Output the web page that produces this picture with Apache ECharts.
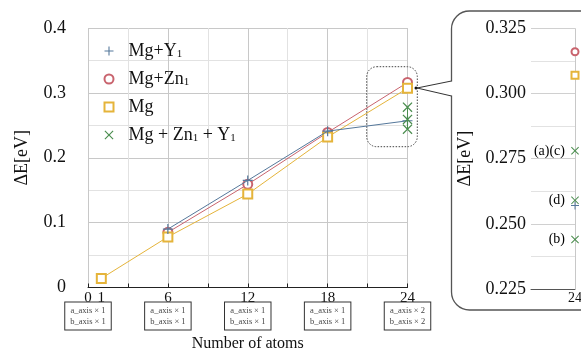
<!DOCTYPE html>
<html>
<head>
<meta charset="utf-8">
<script src="https://cdn.jsdelivr.net/npm/echarts@6/dist/echarts.min.js"></script>
<style>html,body{margin:0;padding:0;background:#fff;}#c{width:581px;height:349px;}</style>
</head>
<body>
<div id="c"></div>
<script>
// ---- data ----
var atoms = [1, 6, 12, 18, 24];
var mgY = [null, 0.090, 0.165, 0.241, 0.257];
var mgZn = [null, 0.085, 0.159, 0.239, 0.316];
var mg = [0.014, 0.078, 0.144, 0.232, 0.307];
var mgZnYAtoms = [24, 24, 24];
var mgZnY = [0.278, 0.259, 0.244];
var mgZnYLabels = ['(a)(c)', '(d)', '(b)'];
var xTickLabels = [0, 1, 6, 12, 18, 24];
var boxAtoms = [0, 6, 12, 18, 24];
var boxMultipliers = [1, 1, 1, 1, 2];
var seriesNames = ['Mg+Y1', 'Mg+Zn1', 'Mg', 'Mg + Zn1 + Y1'];

var FONT = '"Liberation Serif", "DejaVu Serif", serif';
var C_BLUE = '#55789b', C_RED = '#c9646e', C_YEL = '#e5b43a', C_GRN = '#4a8d4e';
var PLUS = 'path://M4.4,0h1.2v4.4h4.4v1.2h-4.4v4.4h-1.2v-4.4h-4.4v-1.2h4.4z';
var CROSS = 'path://M0.9,0L5,4.1L9.1,0L10,0.9L5.9,5L10,9.1L9.1,10L5,5.9L0.9,10L0,9.1L4.1,5L0,0.9z';

function zip(xs, ys) {
  var out = [];
  for (var i = 0; i < xs.length; i++) if (ys[i] != null) out.push([xs[i], ys[i]]);
  return out;
}
function lastPoint(xs, ys) { var i = xs.length - 1; return [[xs[i], ys[i]]]; }

var chart = echarts.init(document.getElementById('c'), null, {renderer: 'canvas'});

var minorLine = {show: true, lineStyle: {color: '#e2e2e2', width: 1}};

var option = {
  backgroundColor: '#fff',
  animation: false,
  textStyle: {fontFamily: FONT},
  grid: [
    {left: 88, top: 28, width: 319.5, height: 259.5, containLabel: false, outerBoundsMode: 'none'},
    {left: 531, top: 28.3, width: 44, height: 260.7, containLabel: false, outerBoundsMode: 'none'}
  ],
  legend: {
    orient: 'vertical', left: 98.5, top: 37, itemWidth: 9, itemHeight: 9, itemGap: 10,
    textStyle: {fontFamily: FONT, fontSize: 18, color: '#111', padding: [0, 0, 0, 10],
      rich: {s: {fontFamily: FONT, fontSize: 11, color: '#111', padding: [6, 0, 0, 0]}}},
    formatter: function (n) { return n.replace(/1/g, '{s|1}'); },
    data: [
      {name: seriesNames[0], icon: PLUS},
      {name: seriesNames[1], icon: 'emptyCircle'},
      {name: seriesNames[2], icon: 'emptyRect'},
      {name: seriesNames[3], icon: CROSS}
    ]
  },
  xAxis: [
    {gridIndex: 0, type: 'value', min: 0, max: 24, interval: 6,
      axisLine: {show: true, lineStyle: {color: '#222', width: 1}},
      axisTick: {show: true, inside: true, length: 4, lineStyle: {color: '#222'}},
      minorTick: {show: true, splitNumber: 2, length: 4, lineStyle: {color: '#222'}},
      splitLine: {show: true, lineStyle: {color: '#c8c8c8'}},
      minorSplitLine: minorLine,
      axisLabel: {customValues: xTickLabels, fontFamily: FONT, fontSize: 15, color: '#111', margin: 3}
    },
    {gridIndex: 0, type: 'value', min: 0, max: 24, position: 'bottom',
      axisLine: {show: false}, axisTick: {show: false}, splitLine: {show: false},
      axisLabel: {customValues: boxAtoms, fontFamily: FONT, fontSize: 8.5, lineHeight: 11, color: '#444',
        margin: 15, borderColor: '#333', borderWidth: 1, padding: [3, 5, 2, 5], backgroundColor: '#fff',
        formatter: function (v) {
          var m = boxMultipliers[boxAtoms.indexOf(v)];
          return 'a_axis × ' + m + '\nb_axis × ' + m;
        }},
      name: 'Number of atoms', nameLocation: 'middle', nameGap: 45,
      nameTextStyle: {fontFamily: FONT, fontSize: 16, color: '#111'}
    },
    {gridIndex: 1, type: 'value', min: 23, max: 24, interval: 1,
      axisLine: {show: true, lineStyle: {color: '#555'}},
      axisTick: {show: false},
      splitLine: {show: true, showMinLine: false, lineStyle: {color: '#c8c8c8'}},
      axisLabel: {showMinLabel: false, fontFamily: FONT, fontSize: 14, color: '#111', margin: 2}
    }
  ],
  yAxis: [
    {gridIndex: 0, type: 'value', min: 0, max: 0.4, interval: 0.1,
      axisLine: {show: false}, axisTick: {show: false},
      splitLine: {show: true, lineStyle: {color: '#c8c8c8'}},
      minorSplitLine: minorLine, minorTick: {show: false, splitNumber: 2},
      axisLabel: {fontFamily: FONT, fontSize: 18, color: '#111', margin: 22,
        formatter: function (v) { return v === 0 ? '0' : v.toFixed(1); }},
      name: 'ΔE[eV]', nameLocation: 'middle', nameGap: 57,
      nameTextStyle: {fontFamily: FONT, fontSize: 18, color: '#111'}
    },
    {gridIndex: 1, type: 'value', min: 0.225, max: 0.325, interval: 0.025,
      axisLine: {show: false}, axisTick: {show: false},
      splitLine: {show: true, lineStyle: {color: '#d0d0d0'}},
      minorSplitLine: minorLine, minorTick: {show: false, splitNumber: 2},
      axisLabel: {fontFamily: FONT, fontSize: 18, color: '#111', margin: 5,
        formatter: function (v) { return v.toFixed(3); }},
      name: 'ΔE[eV]', nameLocation: 'middle', nameGap: 57,
      nameTextStyle: {fontFamily: FONT, fontSize: 18, color: '#111'}
    }
  ],
  series: [
    {name: seriesNames[0], type: 'line', xAxisIndex: 0, yAxisIndex: 0, data: zip(atoms, mgY),
      symbol: PLUS, symbolSize: 10, color: C_BLUE, lineStyle: {width: 1, color: C_BLUE}, itemStyle: {color: C_BLUE}, z: 4},
    {name: seriesNames[1], type: 'line', xAxisIndex: 0, yAxisIndex: 0, data: zip(atoms, mgZn),
      symbol: 'emptyCircle', symbolSize: 9, color: C_RED, lineStyle: {width: 1, color: C_RED},
      itemStyle: {color: C_RED, borderColor: C_RED, borderWidth: 1.5}, z: 3},
    {name: seriesNames[2], type: 'line', xAxisIndex: 0, yAxisIndex: 0, data: zip(atoms, mg),
      symbol: 'emptyRect', symbolSize: 9, color: C_YEL, lineStyle: {width: 1, color: C_YEL},
      itemStyle: {color: C_YEL, borderColor: C_YEL, borderWidth: 1.8}, z: 3},
    {name: seriesNames[3], type: 'line', xAxisIndex: 0, yAxisIndex: 0, data: zip(mgZnYAtoms, mgZnY),
      symbol: CROSS, symbolSize: 10, color: C_GRN, lineStyle: {width: 1, color: C_GRN}, itemStyle: {color: C_GRN}, z: 5},
    // inset (zoomed view of the 24-atom values)
    {name: seriesNames[0], type: 'scatter', xAxisIndex: 2, yAxisIndex: 1, data: lastPoint(atoms, mgY),
      symbol: PLUS, symbolSize: 8, itemStyle: {color: C_BLUE, opacity: 1}, z: 4},
    {name: seriesNames[1], type: 'scatter', xAxisIndex: 2, yAxisIndex: 1, data: lastPoint(atoms, mgZn),
      symbol: 'emptyCircle', symbolSize: 7, itemStyle: {color: C_RED, borderColor: C_RED, borderWidth: 1.5, opacity: 1}},
    {name: seriesNames[2], type: 'scatter', xAxisIndex: 2, yAxisIndex: 1, data: lastPoint(atoms, mg),
      symbol: 'emptyRect', symbolSize: 7, itemStyle: {color: C_YEL, borderColor: C_YEL, borderWidth: 1.6, opacity: 1}},
    {name: seriesNames[3], type: 'scatter', xAxisIndex: 2, yAxisIndex: 1,
      data: mgZnY.map(function (v, i) { return {value: [mgZnYAtoms[i], v], name: mgZnYLabels[i]}; }),
      symbol: CROSS, symbolSize: 8, itemStyle: {color: C_GRN, opacity: 1}, z: 5,
      label: {show: true, position: 'left', distance: 6, formatter: '{b}', fontFamily: FONT, fontSize: 14, color: '#000', opacity: 1}}
  ],
  graphic: [
    {type: 'rect', z: 0, shape: {x: 451.5, y: 11, width: 160, height: 299, r: 18},
      style: {fill: '#fff', stroke: '#555', lineWidth: 1.3}},
    {type: 'rect', z: 1, shape: {x: 449, y: 81.5, width: 5, height: 14}, style: {fill: '#fff', stroke: null}},
    {type: 'polyline', z: 2, shape: {points: [[451.5, 81], [417, 88], [451.5, 96]]},
      style: {fill: null, stroke: '#333', lineWidth: 1}},
    {type: 'circle', z: 2, shape: {cx: 416, cy: 88, r: 1.5}, style: {fill: '#111'}},
    {type: 'rect', z: 2, shape: {x: 366.7, y: 66.7, width: 50.6, height: 80, r: 10},
      style: {fill: null, stroke: '#444', lineWidth: 1, lineDash: [1.5, 1.5]}}
  ]
};
chart.setOption(option);
</script>
</body>
</html>
